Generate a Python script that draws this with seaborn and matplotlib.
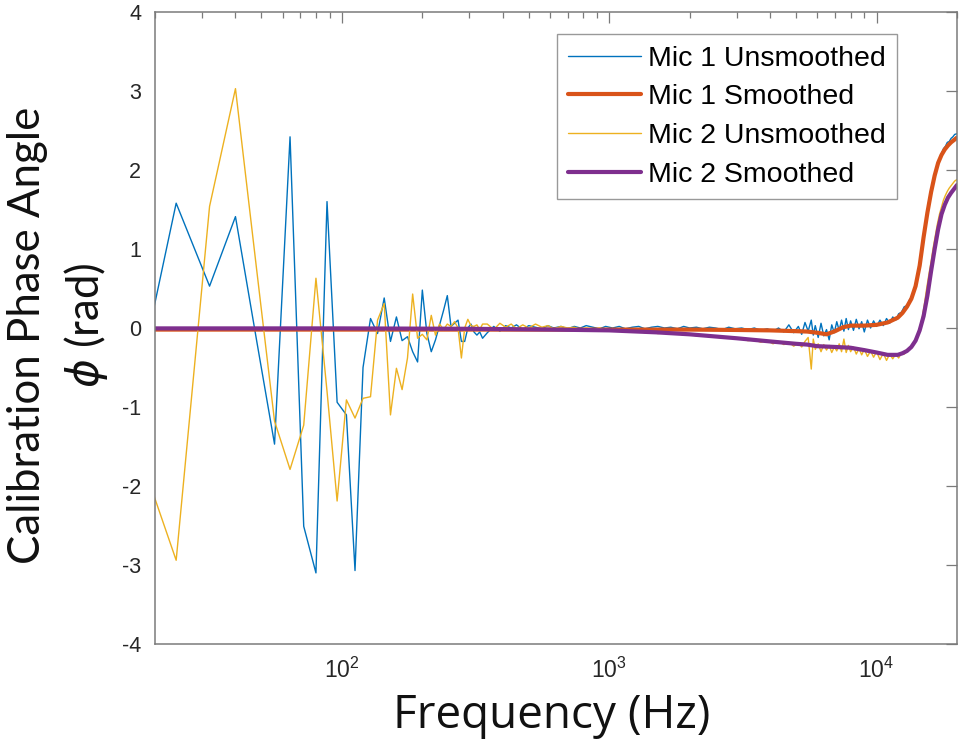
import numpy as np
import pandas as pd
import matplotlib
matplotlib.use("Agg")
import matplotlib.pyplot as plt
import seaborn as sns
from matplotlib.ticker import FixedLocator, NullFormatter, LogLocator

# ---------------- data ----------------
# low-frequency bins (8 Hz spacing)
f_low = [16, 24, 32, 40, 48, 56, 64, 72, 80, 88, 96, 104, 112, 120, 128, 136,
         144, 152, 160, 168, 176, 184, 192, 200, 208, 216, 224, 232, 240, 248,
         256, 264, 272, 280, 288, 296, 304, 312, 320, 328, 336]
mic1_raw_low = [-1.22, 1.58, 0.53, 1.41, -0.16, -1.47, 2.42, -2.51, -3.10, 1.60,
                -0.94, -1.10, -3.07, -0.50, 0.12, -0.07, 0.38, -0.17, 0.14, -0.16,
                -0.11, -0.30, -0.43, 0.48, -0.07, -0.30, -0.15, 0.04, 0.22, 0.41,
                0.02, 0.06, 0.10, -0.17, -0.17, 0.00, 0.05, -0.05, -0.09, -0.05, -0.13]
mic2_raw_low = [-1.21, -2.94, 1.54, 3.03, 0.74, -1.18, -1.79, -1.23, 0.63, -0.80,
                -2.19, -0.91, -1.14, -0.89, -0.87, 0.10, 0.31, -1.10, -0.51, -0.78,
                -0.38, 0.43, -0.13, -0.08, -0.15, 0.16, -0.09, 0.05, -0.02, 0.05,
                0.02, 0.08, 0.00, -0.38, 0.00, 0.11, 0.03, 0.02, 0.04, -0.02, 0.05]

# higher-frequency samples
f_high = [350, 370, 390, 410, 430, 450, 475, 500, 530, 560,
          590, 620, 660, 700, 740, 780, 820, 870, 920, 970,
          1030, 1090, 1150, 1220, 1290, 1360, 1440, 1520, 1610, 1700,
          1800, 1900, 2000, 2120, 2240, 2370, 2500, 2650, 2800, 2960,
          3130, 3300, 3490, 3690, 3900, 4100, 4300, 4500, 4700, 4900,
          5100, 5250, 5400, 5550, 5700, 5800, 5900, 6050, 6200, 6350,
          6500, 6650, 6800, 6950, 7100, 7250, 7400, 7550, 7700, 7850,
          8000, 8200, 8400, 8600, 8800, 9000, 9250, 9500, 9750, 10000,
          10300, 10600, 10900, 11200, 11500, 11800, 12100, 12400, 12700, 13000,
          13300, 13600, 13900, 14200, 14500, 14800, 15100, 15400, 15700, 16000,
          16300, 16600, 16900, 17200, 17500, 17800, 18100, 18400, 18700, 19000,
          19300, 19600, 20000]
mic1_raw_high = [-0.06, 0.02, -0.04, 0.03, 0.00, 0.04, -0.02, 0.03, 0.01, -0.01,
                 0.03, 0.00, 0.02, -0.01, 0.02, 0.00, 0.03, 0.01, -0.01, 0.02,
                 0.00, 0.02, -0.01, 0.01, 0.02, -0.01, 0.01, 0.02, 0.00, 0.01,
                 -0.01, 0.02, 0.00, 0.01, -0.01, 0.01, 0.00, -0.02, 0.01, -0.01,
                 0.00, -0.02, 0.00, -0.03, -0.01, -0.04, 0.00, -0.05, 0.04, -0.06,
                 0.02, -0.08, 0.07, -0.04, 0.10, -0.09, 0.03, -0.12, 0.06, -0.10,
                 -0.02, -0.15, 0.04, -0.06, 0.08, -0.03, 0.10, -0.04, 0.12, -0.02,
                 0.09, -0.03, 0.11, -0.01, 0.08, -0.05, 0.10, 0.00, 0.09, 0.02,
                 0.10, 0.03, 0.12, 0.06, 0.14, 0.10, 0.18, 0.20, 0.27, 0.28,
                 0.36, 0.40, 0.52, 0.66, 0.82, 1.02, 1.25, 1.42, 1.62, 1.74,
                 1.87, 1.97, 2.08, 2.14, 2.21, 2.27, 2.30, 2.35, 2.36, 2.40,
                 2.42, 2.45, 2.46]
mic2_raw_high = [0.05, -0.02, 0.06, 0.01, 0.05, -0.01, 0.04, 0.00, 0.05, 0.01,
                 0.03, -0.01, 0.02, 0.00, 0.01, -0.02, 0.00, -0.02, 0.00, -0.03,
                 -0.02, -0.04, -0.03, -0.05, -0.04, -0.06, -0.05, -0.07, -0.06, -0.08,
                 -0.07, -0.09, -0.08, -0.10, -0.09, -0.11, -0.11, -0.13, -0.12, -0.14,
                 -0.13, -0.16, -0.15, -0.18, -0.16, -0.20, -0.17, -0.21, -0.18, -0.23,
                 -0.19, -0.24, -0.17, -0.12, -0.52, -0.14, -0.27, -0.20, -0.30, -0.21,
                 -0.28, -0.22, -0.31, -0.24, -0.29, -0.20, -0.30, -0.14, -0.31, -0.22,
                 -0.30, -0.24, -0.33, -0.26, -0.34, -0.27, -0.36, -0.29, -0.37, -0.30,
                 -0.40, -0.32, -0.41, -0.33, -0.39, -0.33, -0.38, -0.31, -0.33, -0.28,
                 -0.27, -0.22, -0.17, -0.10, 0.00, 0.12, 0.30, 0.50, 0.68, 0.84,
                 1.02, 1.17, 1.32, 1.44, 1.53, 1.62, 1.68, 1.73, 1.77, 1.80,
                 1.83, 1.86, 1.88]

# smoothed curves
f_smooth = [16, 100, 300, 600, 1000, 1500, 2000, 3000, 4000, 5000, 5500, 6000,
            6500, 7000, 7500, 8000, 9000, 10000, 11000, 12000, 12500, 13000,
            13500, 14000, 14500, 15000, 15500, 16000, 16500, 17000, 17500,
            18000, 18500, 19000, 19500, 20000]
mic1_smooth = [-0.02, -0.02, -0.02, -0.02, -0.02, -0.02, -0.02, -0.025, -0.03,
               -0.04, -0.045, -0.06, -0.08, -0.04, 0.01, 0.03, 0.03, 0.04, 0.07,
               0.13, 0.19, 0.27, 0.37, 0.53, 0.79, 1.15, 1.46, 1.72, 1.93, 2.09,
               2.19, 2.26, 2.31, 2.35, 2.38, 2.41]
mic2_smooth = [-0.005, -0.005, -0.01, -0.02, -0.03, -0.055, -0.08, -0.13, -0.17,
               -0.20, -0.21, -0.23, -0.235, -0.24, -0.245, -0.25, -0.28, -0.31,
               -0.34, -0.34, -0.32, -0.29, -0.24, -0.16, -0.03, 0.15, 0.41, 0.72,
               1.00, 1.25, 1.44, 1.56, 1.65, 1.71, 1.76, 1.81]

labels = ["Mic 1 Unsmoothed", "Mic 1 Smoothed", "Mic 2 Unsmoothed", "Mic 2 Smoothed"]
colors = ["#0072BD", "#D95319", "#EDB120", "#7E2F8E"]
y_ticks = [-4, -3, -2, -1, 0, 1, 2, 3, 4]
x_major = [100, 1000, 10000]
x_major_labels = [r"$\mathregular{10^{2}}$", r"$\mathregular{10^{3}}$", r"$\mathregular{10^{4}}$"]

# ---------------- figure ----------------
sns.set_style("white")
plt.rcParams["font.family"] = ["Liberation Sans", "DejaVu Sans"]
plt.rcParams["axes.unicode_minus"] = False

fig = plt.figure(figsize=(9.64, 7.54), dpi=100)
W, H = 964, 754
ax = fig.add_axes([155 / W, 1 - 644 / H, (957 - 155) / W, (644 - 12) / H])

series = [
    (f_low + f_high, mic1_raw_low + mic1_raw_high, 1.0),
    (f_smooth, mic1_smooth, 3.0),
    (f_low + f_high, mic2_raw_low + mic2_raw_high, 1.0),
    (f_smooth, mic2_smooth, 3.0),
]
for (fx, fy, lw), lab, col in zip(series, labels, colors):
    df = pd.DataFrame({"f": fx, "v": fy})
    sns.lineplot(data=df, x="f", y="v", ax=ax, color=col, linewidth=lw,
                 label=lab, estimator=None, sort=False)

ax.set_xscale("log")
ax.set_xlim(20, 20000)
ax.set_ylim(-4, 4)
ax.set_xlabel("")
ax.set_ylabel("")

ax.xaxis.set_major_locator(FixedLocator(x_major))
ax.set_xticklabels(x_major_labels)
ax.xaxis.set_minor_locator(LogLocator(base=10, subs=np.arange(2, 10)))
ax.xaxis.set_minor_formatter(NullFormatter())
ax.set_yticks(y_ticks)
ax.set_yticklabels([str(t) for t in y_ticks])

spine_col = "#7a7a7a"
for s in ax.spines.values():
    s.set_color(spine_col)
    s.set_linewidth(1.1)
ax.tick_params(which="both", direction="in", top=True, right=True,
               color=spine_col, width=0.9, labelcolor="#262626")
ax.tick_params(which="major", length=8)
ax.tick_params(which="minor", length=4)
ax.tick_params(axis="y", labelsize=15.5, pad=10)
ax.tick_params(axis="x", labelsize=16.5, pad=10)

leg = ax.legend(loc="upper right", bbox_to_anchor=(0.925, 0.965), fontsize=20.5,
                frameon=True, fancybox=False, edgecolor="#808080",
                handlelength=2.55, handletextpad=0.25, borderpad=0.4,
                labelspacing=0.45, borderaxespad=0.0)
leg.get_frame().set_linewidth(1.0)
for t in leg.get_texts():
    t.set_color("#000000")

fig.text(552 / W, 1 - 716 / H, "Frequency (Hz)", fontsize=33, family=["Open Sans", "DejaVu Sans"],
         ha="center", va="center", color="#111111")
fig.text(28 / W, 1 - 335 / H, "Calibration Phase Angle", fontsize=31.5,
         family=["Lato", "DejaVu Sans"], rotation=90, ha="center", va="center", color="#111111")
fig.text(86 / W, 1 - 325 / H, r"$\phi$ (rad)", fontsize=31.5,
         family=["Lato", "DejaVu Sans"], rotation=90, ha="center", va="center", color="#111111")

fig.savefig("out.png", dpi=100)
